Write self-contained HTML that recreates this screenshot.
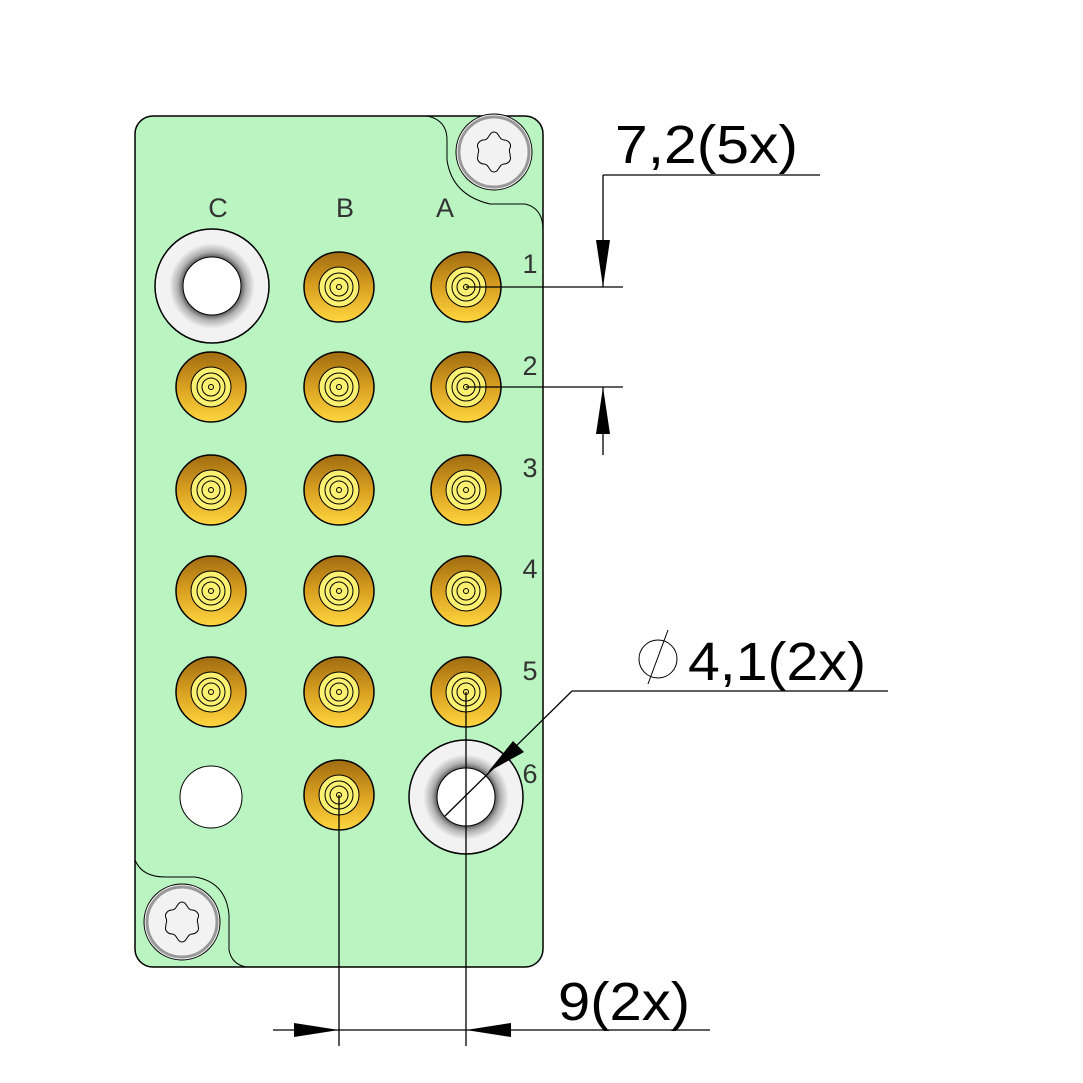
<!DOCTYPE html>
<html><head><style>body{margin:0;background:#fff}svg{display:block}</style></head><body>
<svg width="1083" height="1083" viewBox="0 0 1083 1083" xmlns="http://www.w3.org/2000/svg" font-family="Liberation Sans, DejaVu Sans, sans-serif">
<defs>
<linearGradient id="goldl" x1="0" y1="0" x2="0" y2="1"><stop offset="0" stop-color="#a06c10"/><stop offset="0.5" stop-color="#d9a020"/><stop offset="1" stop-color="#ffd640"/></linearGradient>
<radialGradient id="wash" cx="0.5" cy="0.5" r="0.5">
<stop offset="0.5" stop-color="#555"/><stop offset="0.6" stop-color="#b0b0b0"/><stop offset="0.75" stop-color="#f2f2f2"/><stop offset="1" stop-color="#f2f2f2"/></radialGradient>
<g id="pin">
<circle r="35" fill="url(#goldl)" stroke="#000" stroke-width="1.5"/>
<circle r="20" fill="#fbf070" stroke="#000" stroke-width="1"/>
<circle r="14" fill="none" stroke="#000" stroke-width="1"/>
<circle r="9" fill="none" stroke="#000" stroke-width="1"/>
<circle r="2.5" fill="none" stroke="#000" stroke-width="1"/>
</g>
<g id="washer">
<circle r="57" fill="url(#wash)" stroke="#000" stroke-width="1.5"/>
<circle r="29" fill="#fff" stroke="#000" stroke-width="1"/>
</g>
<g id="screw">
<circle r="38" fill="#f2f2f2" stroke="#000" stroke-width="1"/>
<circle r="35" fill="none" stroke="#999" stroke-width="3"/>
<path d="M0,-20 C5,-20 5,-12 10,-12 C14,-12 18,-8 16,-4 C14,0 17,2 16,4 C18,8 14,12 10,12 C5,12 5,20 0,20 C-5,20 -5,12 -10,12 C-14,12 -18,8 -16,4 C-17,2 -14,0 -16,-4 C-18,-8 -14,-12 -10,-12 C-5,-12 -5,-20 0,-20Z" fill="none" stroke="#000" stroke-width="1"/>
</g>
</defs>
<rect x="135" y="116" width="408" height="851" rx="18" fill="#b9f4c1" stroke="#000" stroke-width="1.5"/>
<path d="M427,116 Q447,120 447,140 L447,160 Q452,195 490,204 L525,204 Q543,208 543,230" fill="none" stroke="#000" stroke-width="1"/>
<path d="M135,860 Q142,877 165,877 L195,877 Q226,882 229,915 L229,950 Q232,965 247,967" fill="none" stroke="#000" stroke-width="1"/>
<use href="#screw" x="494" y="152"/>
<use href="#screw" x="182" y="922"/>
<g fill="#333" font-size="27" text-anchor="middle">
<text x="218" y="217">C</text><text x="345" y="217">B</text><text x="445" y="217">A</text>
<text x="530" y="273">1</text><text x="530" y="375">2</text><text x="530" y="477">3</text><text x="530" y="578">4</text><text x="530" y="680">5</text><text x="530" y="783">6</text>
</g>
<use href="#washer" x="212" y="286"/>
<use href="#washer" x="466" y="797"/>
<circle cx="211" cy="797" r="31" fill="#fff" stroke="#000" stroke-width="1"/>
<use href="#pin" x="339" y="287"/><use href="#pin" x="466" y="287"/>
<use href="#pin" x="211" y="387"/><use href="#pin" x="339" y="387"/><use href="#pin" x="466" y="387"/>
<use href="#pin" x="211" y="490"/><use href="#pin" x="339" y="490"/><use href="#pin" x="466" y="490"/>
<use href="#pin" x="211" y="591"/><use href="#pin" x="339" y="591"/><use href="#pin" x="466" y="591"/>
<use href="#pin" x="211" y="692"/><use href="#pin" x="339" y="692"/><use href="#pin" x="466" y="692"/>
<use href="#pin" x="339" y="795"/>
<g stroke="#000" stroke-width="1.3" fill="none">
<line x1="466" y1="287" x2="623" y2="287"/><line x1="466" y1="387" x2="623" y2="387"/>
<line x1="603" y1="175" x2="820" y2="175"/><line x1="603" y1="175" x2="603" y2="287"/>
<line x1="603" y1="387" x2="603" y2="455"/>
<line x1="572" y1="691" x2="888" y2="691"/><line x1="572" y1="691" x2="445" y2="816"/>
<line x1="339" y1="795" x2="339" y2="1046"/><line x1="466" y1="692" x2="466" y2="1046"/>
<line x1="273" y1="1030" x2="710" y2="1030"/>
<circle cx="658" cy="659" r="19" stroke-width="1"/><line x1="648" y1="684" x2="668" y2="630" stroke-width="1"/>
</g>
<g fill="#000">
<polygon points="603,287 596,240 610,240"/>
<polygon points="603,387 596,434 610,434"/>
<polygon points="339,1030 294,1023 294,1037"/>
<polygon points="466,1030 511,1023 511,1037"/>
<polygon points="488,772 513,741 524,752"/>
</g>
<g fill="#000" font-size="54">
<text x="615" y="163" textLength="183" lengthAdjust="spacingAndGlyphs">7,2(5x)</text>
<text x="688" y="680" textLength="178" lengthAdjust="spacingAndGlyphs">4,1(2x)</text>
<text x="558" y="1020" textLength="132" lengthAdjust="spacingAndGlyphs">9(2x)</text>
</g>
</svg>
</body></html>
